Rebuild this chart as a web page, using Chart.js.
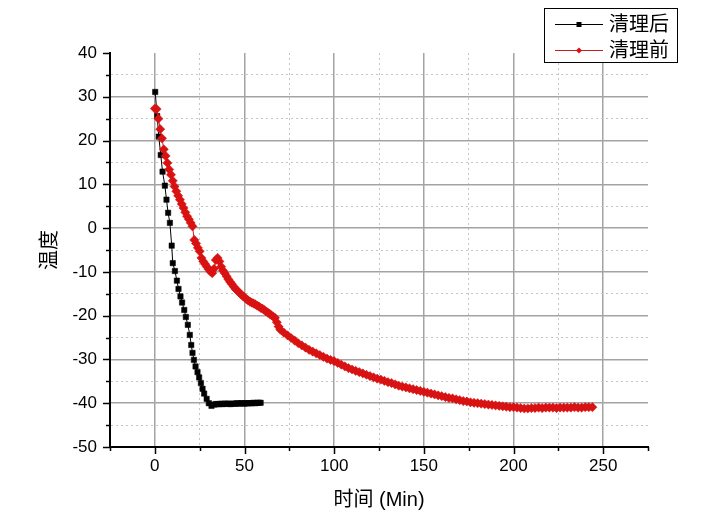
<!DOCTYPE html>
<html>
<head>
<meta charset="utf-8">
<script src="https://cdn.jsdelivr.net/npm/chart.js@4"></script>
<style>
html,body{margin:0;padding:0;background:#fff;}
#wrap{width:709px;height:524px;position:relative;}
</style>
</head>
<body>
<div id="wrap"><canvas id="c" width="709" height="524"></canvas></div>
<script>
// ---- data ----
const seriesNames = ['清理后', '清理前'];
const xAxisTitle = '时间 (Min)';
const yAxisTitle = '温度';

const afterTime = [0.2,1.3,2.2,3.3,4.3,5.6,6.5,7.4,8.4,9.4,10.0,11.2,12.3,13.2,14.3,15.2,16.4,17.3,18.4,19.5,20.3,21.0,21.8,22.7,23.8,24.7,25.7,26.6,27.5,28.9,30.1,31.6,33.1,34,35,36,37,38,39,40,41,42,43,44,45,46,47,48,49,50,51,52,53,54,55,56,57,58,59];
const afterTemp = [31.1,25.6,20.9,16.7,12.9,9.7,6.5,3.5,1.2,-4.0,-8.0,-9.8,-12.0,-13.9,-15.6,-17.0,-18.7,-20.3,-22.1,-24.4,-26.7,-28.5,-30.1,-31.6,-32.9,-34.1,-35.4,-36.7,-37.8,-39.0,-40.0,-40.6,-40.3,-40.2,-40.2,-40.2,-40.1,-40.2,-40.1,-40.1,-40.1,-40.2,-40.1,-40.1,-40.1,-40.0,-40.1,-40.0,-40.0,-40.1,-40.0,-40.0,-40.0,-40.0,-39.9,-40.0,-39.9,-39.9,-39.9];

const beforeTime = [0,1,2,3,4,5,6,7,8,9,10,11,12,13,14,15,16,17,18,19,20,21,22,23,24,25,26,27,28,29,30,31,32,33,34,35,36,37,38,39,40,41,42,43,44,45,46,47,48,49,50,51,52,53,54,55,56,57,58,59,60,61,62,63,64,65,66,67,68,69,70,
72,74,76,78,80,82,84,86,88,90,92,94,96,98,100,102,104,106,108,110,112,114,116,118,120,122,124,126,128,130,132,134,136,138,140,142,144,146,148,150,152,154,156,158,160,162,164,166,168,170,172,174,176,178,180,182,184,186,188,190,192,194,196,198,200,202,204,206,208,210,212,214,216,218,220,222,224,226,228,230,232,234,236,238,240,242,244];
const beforeTemp = [27.3,27.2,25.0,22.6,20.5,18.0,16.5,14.9,13.4,12.2,10.8,9.5,8.4,7.4,6.5,5.5,4.6,3.6,2.7,2.0,1.2,0.4,-2.7,-3.5,-4.5,-5.3,-6.8,-7.6,-8.2,-8.8,-9.4,-9.9,-10.3,-9.3,-7.3,-6.8,-7.6,-8.8,-9.7,-10.3,-11.0,-11.7,-12.3,-12.8,-13.4,-13.9,-14.3,-14.7,-15.1,-15.5,-15.8,-16.2,-16.5,-16.8,-17.0,-17.2,-17.4,-17.7,-17.9,-18.2,-18.4,-18.7,-19.0,-19.3,-19.6,-19.9,-20.2,-20.5,-21.5,-22.5,-23.2,
-23.9,-24.5,-25.1,-25.7,-26.3,-26.8,-27.3,-27.8,-28.2,-28.6,-29.0,-29.4,-29.8,-30.1,-30.4,-30.8,-31.2,-31.6,-32.0,-32.3,-32.6,-32.9,-33.2,-33.5,-33.8,-34.1,-34.4,-34.6,-34.9,-35.2,-35.4,-35.7,-36.0,-36.2,-36.4,-36.6,-36.8,-37.0,-37.2,-37.4,-37.6,-37.8,-38.0,-38.2,-38.4,-38.6,-38.8,-38.9,-39.1,-39.3,-39.5,-39.6,-39.8,-39.9,-40.0,-40.1,-40.2,-40.3,-40.4,-40.5,-40.6,-40.7,-40.8,-40.9,-40.9,-41.0,-41.1,-41.2,-41.2,-41.1,-41.1,-41.0,-41.1,-41.0,-41.0,-41.0,-41.1,-41.0,-41.0,-41.0,-41.0,-40.9,-41.0,-41.0,-40.9,-40.9,-40.9];

const xMin = -25, xMax = 275, xMinorStep = 25, xMajorStep = 50;
const yMin = -50, yMax = 40, yMinorStep = 5, yMajorStep = 10;

// ---- styling ----
const tickFont = {family: '"Liberation Sans", Arial, sans-serif', size: 17};
const titleFont = {family: '"Liberation Sans", "Noto Sans CJK SC", sans-serif', size: 20};
const cjkFont = '20px "Noto Sans CJK SC", sans-serif';
const redLine = '#c42020';
const redFill = '#d81212';

function toPoints(xs, ys){ return xs.map((x,i)=>({x:x, y:ys[i]})); }

const tickMarks = {
  id: 'tickMarks',
  afterDraw(chart){
    const ctx = chart.ctx;
    const xs = chart.scales.x, ys = chart.scales.y;
    const area = chart.chartArea;
    ctx.save();
    ctx.strokeStyle = '#000';
    ctx.lineWidth = 1.5;
    ys.ticks.forEach(t=>{
      const py = Math.round(ys.getPixelForValue(t.value)) + 0.5;
      const len = (Math.abs(t.value % yMajorStep) < 1e-9) ? 7 : 4;
      ctx.beginPath(); ctx.moveTo(area.left - len, py); ctx.lineTo(area.left, py); ctx.stroke();
    });
    xs.ticks.forEach(t=>{
      const px = Math.round(xs.getPixelForValue(t.value)) + 0.5;
      const len = (Math.abs(t.value % xMajorStep) < 1e-9) ? 7 : 4;
      ctx.beginPath(); ctx.moveTo(px, area.bottom); ctx.lineTo(px, area.bottom + len); ctx.stroke();
    });
    ctx.restore();
  }
};

const boxLegend = {
  id: 'boxLegend',
  afterDraw(chart){
    const ctx = chart.ctx;
    ctx.save();
    const bx = 544.5, by = 8.5, bw = 133, bh = 54;
    ctx.fillStyle = '#fff';
    ctx.fillRect(bx, by, bw, bh);
    ctx.strokeStyle = '#000';
    ctx.lineWidth = 1;
    ctx.strokeRect(bx, by, bw, bh);
    const rows = [
      {ds: chart.data.datasets[1], y: 24.5},
      {ds: chart.data.datasets[0], y: 50.5}
    ];
    rows.forEach(r=>{
      ctx.strokeStyle = r.ds.borderColor;
      ctx.lineWidth = 1;
      ctx.beginPath(); ctx.moveTo(555, r.y); ctx.lineTo(603, r.y); ctx.stroke();
      ctx.fillStyle = r.ds.pointBackgroundColor;
      ctx.beginPath();
      if (r.ds.pointStyle === 'rect') {
        ctx.rect(576.5, r.y - 2.5, 5, 5);
      } else {
        ctx.moveTo(579, r.y - 3); ctx.lineTo(582, r.y); ctx.lineTo(579, r.y + 3); ctx.lineTo(576, r.y);
        ctx.closePath();
      }
      ctx.fill();
      ctx.fillStyle = '#000';
      ctx.font = cjkFont;
      ctx.textBaseline = 'middle';
      ctx.textAlign = 'left';
      ctx.fillText(r.ds.label, 609, r.y - 1);
    });
    ctx.restore();
  }
};

const isMajor = (v, step) => Math.abs(v % step) < 1e-9;

new Chart(document.getElementById('c'), {
  type: 'line',
  data: {
    datasets: [
      {
        label: seriesNames[1],
        data: toPoints(beforeTime, beforeTemp),
        borderColor: redLine,
        borderWidth: 1,
        pointStyle: 'rectRot',
        pointRadius: 4.6,
        pointBackgroundColor: redFill,
        pointBorderColor: redFill,
        pointBorderWidth: 0.5,
        tension: 0,
        order: 0
      },
      {
        label: seriesNames[0],
        data: toPoints(afterTime, afterTemp),
        borderColor: '#000',
        borderWidth: 1,
        pointStyle: 'rect',
        pointRadius: 3.8,
        pointBackgroundColor: '#000',
        pointBorderColor: '#000',
        pointBorderWidth: 0.5,
        tension: 0,
        order: 1
      }
    ]
  },
  options: {
    responsive: false,
    animation: false,
    devicePixelRatio: 1,
    layout: {padding: {top: 53, right: 61, bottom: 0, left: 0}},
    plugins: {legend: {display: false}, tooltip: {enabled: false}},
    scales: {
      x: {
        type: 'linear',
        min: xMin, max: xMax,
        afterFit(s){ s.height = 77; },
        ticks: {
          stepSize: xMinorStep,
          autoSkip: false,
          maxRotation: 0,
          color: '#000',
          font: tickFont,
          padding: 9,
          callback: v => isMajor(v, xMajorStep) ? String(v) : ''
        },
        grid: {
          drawTicks: false,
          color: c => (c.tick && (c.tick.value === xMin || c.tick.value === xMax)) ? 'rgba(0,0,0,0)' :
                      (c.tick && isMajor(c.tick.value, xMajorStep) ? '#a3a3a3' : '#c4c4c4'),
          lineWidth: c => (c.tick && isMajor(c.tick.value, xMajorStep)) ? 1.5 : 1
        },
        border: {
          display: true, color: '#000', width: 2,
          dash: c => (c.tick && !isMajor(c.tick.value, xMajorStep)) ? [2, 3] : []
        },
        title: {display: true, text: xAxisTitle, color: '#000', font: titleFont, padding: {top: 0, bottom: 12}}
      },
      y: {
        type: 'linear',
        min: yMin, max: yMax,
        afterFit(s){ s.width = 110; },
        ticks: {
          stepSize: yMinorStep,
          autoSkip: false,
          color: '#000',
          font: tickFont,
          padding: 13,
          callback: v => isMajor(v, yMajorStep) ? String(v) : ''
        },
        grid: {
          drawTicks: false,
          color: c => (c.tick && (c.tick.value === yMax || c.tick.value === yMin)) ? 'rgba(0,0,0,0)' :
                      (c.tick && isMajor(c.tick.value, yMajorStep) ? '#a3a3a3' : '#c4c4c4'),
          lineWidth: c => (c.tick && isMajor(c.tick.value, yMajorStep)) ? 1.5 : 1
        },
        border: {
          display: true, color: '#000', width: 2,
          dash: c => (c.tick && !isMajor(c.tick.value, yMajorStep)) ? [2, 3] : []
        },
        title: {display: true, text: yAxisTitle, color: '#000', font: titleFont, padding: {top: 38, bottom: 0}}
      }
    }
  },
  plugins: [tickMarks, boxLegend]
});
</script>
</body>
</html>
